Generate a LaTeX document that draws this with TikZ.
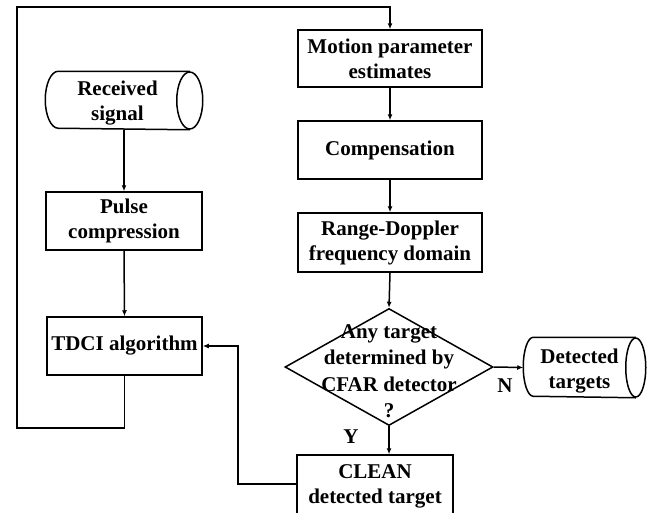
\documentclass[tikz,border=0pt]{standalone}
\usepackage{fontspec}
\setmainfont{Liberation Serif}
\usetikzlibrary{shapes.geometric,arrows.meta}
\begin{document}
\begin{tikzpicture}[x=1pt,y=-1pt,line width=1.5pt,
  every node/.style={font=\bfseries\fontsize{21}{25}\selectfont},
  box/.style={draw,rectangle,inner sep=0pt,align=center},
  cylnode/.style={rectangle,inner sep=0pt},
  arr/.style={-{Latex[length=6pt,width=5pt]}},
  lbl/.style={inner sep=0pt}]
\useasboundingbox (0,0) rectangle (660,512);
% nodes
\node[cylnode,minimum width=156pt,minimum height=57pt,
  label={[xshift=-6.5pt,yshift=-3pt,align=center,inner sep=0pt]center:Received\\signal}] (rs) at (124,100.5) {};
\node[box,minimum width=156pt,minimum height=58pt] (pc) at (124,221) {Pulse\\compression};
\node[box,minimum width=155pt,minimum height=58pt] (tdci) at (124.5,346) {TDCI algorithm};
\node[box,minimum width=184pt,minimum height=57pt] (mpe) at (390,58.5) {Motion parameter\\estimates};
\node[box,minimum width=184pt,minimum height=58pt] (comp) at (390,150) {Compensation};
\node[box,minimum width=184pt,minimum height=59pt] (rd) at (390,242.5) {Range-Doppler\\frequency domain};
\node[diamond,draw,minimum width=208pt,minimum height=117pt,inner sep=0pt,
  label={[align=center,inner sep=0pt,yshift=-4pt,font=\bfseries\fontsize{21}{26.5}\selectfont]center:Any target\\determined by\\CFAR detector\\?}] (dec) at (389,367) {};
\node[cylnode,minimum width=121pt,minimum height=59pt,
  label={[xshift=-5pt,yshift=-4pt,align=center,inner sep=0pt]center:Detected\\targets}] (dt) at (584.5,367.5) {};
\node[box,minimum width=156pt,minimum height=62pt] (clean) at (375,486) {CLEAN\\detected target};
\node[lbl] (nlab) at (505,386) {N};
\node[lbl] (ylab) at (351,437) {Y};
% cylinders
\draw ([xshift=-13pt]rs.north east) -- ([xshift=13pt]rs.north west)
  arc[start angle=90,end angle=270,x radius=13pt,y radius=28.5pt]
  -- ([xshift=-13pt]rs.south east);
\draw ([xshift=-13pt]rs.east) ellipse[x radius=13pt,y radius=28.5pt];
\draw ([xshift=-10pt]dt.north east) -- ([xshift=10pt]dt.north west)
  arc[start angle=90,end angle=270,x radius=10pt,y radius=29.5pt]
  -- ([xshift=-10pt]dt.south east);
\draw ([xshift=-10pt]dt.east) ellipse[x radius=10pt,y radius=29.5pt];
% loop coordinates
\coordinate (lb) at (124.5,428);
\coordinate (ll) at (17,428);
\coordinate (lt) at (17,7);
\coordinate (rt) at (390,7);
\coordinate (fb) at (238,484);
% connectors
\draw[arr] (rs.south) -- (pc.north);
\draw[arr] (pc.south) -- (tdci.north);
\draw[arr] (tdci.south) -- (lb) -- (ll) -- (lt) -- (rt) -- (mpe.north);
\draw[arr] (mpe.south) -- (comp.north);
\draw[arr] (comp.south) -- (rd.north);
\draw[arr] (rd.south) -- (dec.north);
\draw[arr] (dec.east) -- (dt.west);
\draw[arr] (dec.south) -- (dec.south |- clean.north);
\draw[arr] (clean.west |- fb) -- (fb) |- (tdci.east);
\end{tikzpicture}
\end{document}
